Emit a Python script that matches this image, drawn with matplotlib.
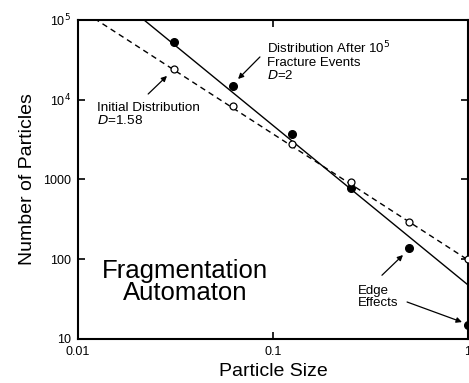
import matplotlib
matplotlib.use("Agg")
import matplotlib.pyplot as plt
import numpy as np

plt.rcParams['font.family'] = ['Liberation Sans', 'DejaVu Sans']

# Data
sizes = [1/32, 1/16, 1/8, 1/4, 1/2, 1]
after_counts = [53000, 15000, 3700, 780, 137, 15]       # filled circles
initial_counts = [24000, 8400, 2760, 920, 296, 100]     # open circles
D_after, A_after = 2.0, 47.6
D_init, A_init = 1.58, 98.0

fig = plt.figure(figsize=(4.69, 3.83), dpi=100)
ax = fig.add_axes([0.1663, 0.1149, 0.8316, 0.8329])

xfit = np.array([0.01, 1.0])
ax.plot(xfit, A_after * xfit ** (-D_after), color='black', lw=1.0, zorder=2)
ax.plot(xfit, A_init * xfit ** (-D_init), color='black', lw=1.0,
        ls=(0, (4, 3)), zorder=2)

ax.plot(sizes, after_counts, 'o', color='black', ms=5.5, zorder=3)
ax.plot(sizes, initial_counts, 'o', mfc='white', mec='black', mew=0.9,
        ms=5, zorder=3)

ax.set_xscale('log')
ax.set_yscale('log')
ax.set_xlim(0.01, 1)
ax.set_ylim(10, 1e5)
ax.set_xticks([0.01, 0.1, 1])
ax.set_xticklabels(['0.01', '0.1', '1'])
ax.set_yticks([10, 100, 1000, 1e4, 1e5])
ax.set_yticklabels(['10', '100', '1000', '10$^4$', '10$^5$'])
ax.minorticks_off()
ax.tick_params(which='major', direction='in', length=5, width=1.2,
               top=True, right=True, labelsize=9, pad=5)
for s in ax.spines.values():
    s.set_linewidth(1.5)

ax.set_xlabel('Particle Size', fontsize=14, labelpad=4)
ax.set_ylabel('Number of Particles', fontsize=14, labelpad=5)

arrowprops = dict(arrowstyle='-|>', color='black', lw=0.9,
                  mutation_scale=8, shrinkA=0, shrinkB=0)

ax.annotate('', xy=(0.0286, 19900), xytext=(0.0229, 11800),
            arrowprops=arrowprops)
ax.text(0.0125, 9300, 'Initial Distribution\n$D$=1.58', fontsize=9.7,
        va='top', ha='left', linespacing=1.0)

ax.annotate('', xy=(0.0662, 18200), xytext=(0.0857, 34400),
            arrowprops=arrowprops)
ax.text(0.0931, 56000, 'Distribution After 10$^5$\nFracture Events\n$D$=2',
        fontsize=9.5, va='top', ha='left', linespacing=1.0)

ax.text(0.0354, 52, 'Fragmentation\nAutomaton', fontsize=18.5,
        ha='center', va='center', linespacing=0.88)

ax.text(0.273, 33.6, 'Edge\nEffects', fontsize=9.5, ha='left', va='center',
        linespacing=1.0)
ax.annotate('', xy=(0.464, 113), xytext=(0.362, 63), arrowprops=arrowprops)
ax.annotate('', xy=(0.931, 16.3), xytext=(0.487, 29.1), arrowprops=arrowprops)

fig.savefig('out.png', dpi=100)
